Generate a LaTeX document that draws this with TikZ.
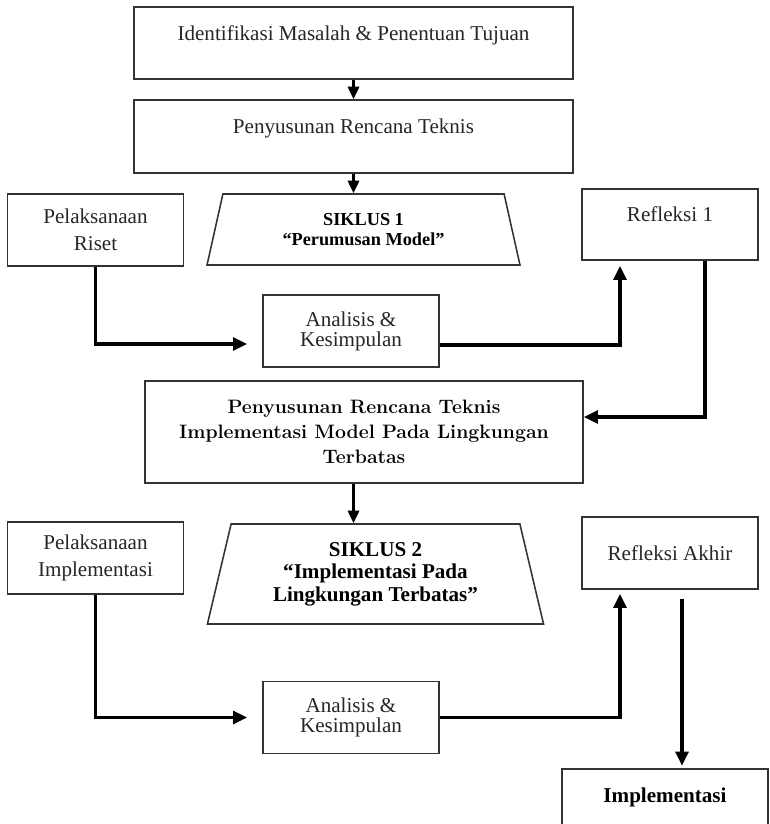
\documentclass[tikz,border=0pt]{standalone}
\usepackage{fontspec}
\newfontfamily\timesfont{Liberation Serif}
\usepackage{tikz}
\usetikzlibrary{arrows.meta, positioning, shapes.geometric, calc}
\newcommand{\pxu}{0.025cm}

\begin{document}
\begin{tikzpicture}[
  x=0.025cm, y=-0.025cm,
  every node/.style={font=\timesfont\fontsize{15}{19}\selectfont, text=black!85},
  box/.style={
    draw=black!80, line width=1.1pt, align=center, inner sep=2pt,
    minimum width=176*\pxu, minimum height=72*\pxu
  },
  widebox/.style={box, minimum width=439*\pxu},
  raised/.style={text height=11pt, text depth=15pt},
  tight/.style={font=\timesfont\fontsize{15}{14.2}\selectfont},
  siklus/.style={
    draw=black!80, line width=1.1pt, trapezium, trapezium stretches=true,
    trapezium left angle=76, trapezium right angle=76,
    align=center, inner sep=2pt, text=black
  },
  arrow/.style={-{Triangle[length=9pt, width=8pt]}, line width=2pt},
  flow/.style={-{Triangle[length=10pt, width=9pt]}, line width=2.5pt}
]
\useasboundingbox (0,0) rectangle (770,824);

  % Tahap awal
\node[widebox, raised] (ident) at (353.5, 43) {Identifikasi Masalah \& Penentuan Tujuan};
\node[widebox, raised, minimum height=73*\pxu] (rencana) at (353.5, 136.5) {Penyusunan Rencana Teknis};

  % Siklus 1
\node[box] (riset) at (95.5, 230) {Pelaksanaan\\Riset};
\node[siklus, minimum width=313*\pxu, minimum height=71*\pxu,
  font=\timesfont\bfseries\fontsize{13}{14.2}\selectfont] (siklus1) at (363.5, 229.5) {SIKLUS 1\\“Perumusan Model”};
\node[box, raised, minimum height=71*\pxu] (refl1) at (670, 224.5) {Refleksi 1};
\node[box, tight] (analisis1) at (351, 331) {Analisis \&\\Kesimpulan};

\node[box, minimum width=438*\pxu, minimum height=102*\pxu, text=black,
  font=\rmfamily\bfseries\fontsize{13.8}{17.8}\selectfont] (rencana2) at (364, 432) {Penyusunan Rencana Teknis\\Implementasi Model Pada Lingkungan\\Terbatas};

  % Siklus 2
\node[box] (implem) at (95.5, 558) {Pelaksanaan\\Implementasi};
\node[siklus, minimum width=337*\pxu, minimum height=100*\pxu,
  font=\timesfont\bfseries\fontsize{15}{16}\selectfont] (siklus2) at (375.5, 574) {SIKLUS 2\\“Implementasi Pada\\Lingkungan Terbatas”};
\node[box] (reflakhir) at (670, 553) {Refleksi Akhir};
\node[box, tight] (analisis2) at (351, 717.5) {Analisis \&\\Kesimpulan};

\node[box, raised, minimum width=206*\pxu, text=black,
  font=\timesfont\bfseries\fontsize{15}{19}\selectfont] (implementasi) at (665, 805) {Implementasi};

  % Panah
  \draw[arrow] (ident) -- (rencana);
  \draw[arrow] (rencana.south) -- (rencana.south |- siklus1.north);
  \draw[flow] (riset.south) |- ($(analisis1.west)+(-15,13)$);
  \draw[flow] ($(analisis1.east)+(0,14)$) -| ($(refl1.south)+(-50,5)$);
  \draw[flow] ($(refl1.south)+(35,0)$) |- ($(rencana2.east)+(0,-15)$);
  \draw[arrow] (rencana.south |- rencana2.south) -- (rencana.south |- siklus2.north);

  \draw[flow] (implem.south) |- ($(analisis2.west)+(-15,0)$);
  \draw[flow] (analisis2.east) -| ($(reflakhir.south)+(-50,4)$);
  \draw[flow] ($(reflakhir.south)+(12,9)$) -- ++(0,167);

\end{tikzpicture}
\end{document}
